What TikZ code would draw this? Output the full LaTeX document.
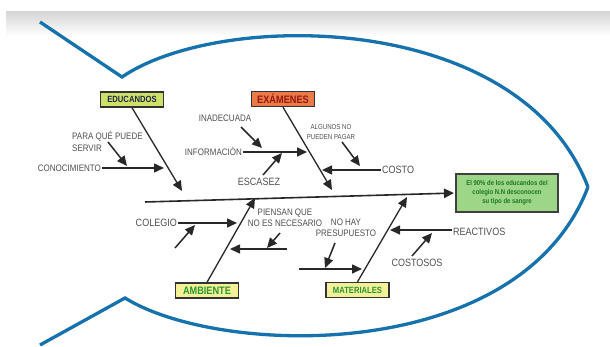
\documentclass[tikz,border=0pt]{standalone}
\usepackage{fontspec}
\setmainfont{Liberation Sans}[FakeStretch=0.85]
\usetikzlibrary{arrows.meta}

\definecolor{fishblue}{RGB}{22,114,172}
\definecolor{txtgray}{RGB}{80,80,80}
\definecolor{linegray}{RGB}{40,40,40}
\definecolor{edufill}{RGB}{206,224,104}
\definecolor{edutext}{RGB}{30,38,70}
\definecolor{exafill}{RGB}{234,122,72}
\definecolor{exatext}{RGB}{150,22,12}
\definecolor{paleyellow}{RGB}{244,240,152}
\definecolor{catgreen}{RGB}{40,150,50}
\definecolor{efffill}{RGB}{158,214,136}
\definecolor{efftext}{RGB}{28,118,32}

\tikzset{
  fish/.style={draw=fishblue, line width=3.3pt, line join=miter},
  lbl/.style={text=txtgray, inner sep=1pt, font=\fontsize{9.4}{12}\selectfont},
  biglbl/.style={lbl, font=\fontsize{10.6}{12}\selectfont},
  smalllbl/.style={lbl, font=\fontsize{7.2}{10}\selectfont},
  catbox/.style={draw=black!80, line width=1.4pt, minimum width=63pt,
    minimum height=15pt, inner sep=0pt},
  head/.style={-{Triangle[length=10pt,width=9pt]}},
  bone/.style={draw=linegray, line width=1.3pt, head},
  branch/.style={draw=linegray, line width=1.5pt, head},
  twig/.style={draw=linegray, line width=1.5pt, head},
  spine/.style={draw=linegray, line width=1.6pt, -{Triangle[length=10pt,width=9.5pt]}}
}

\begin{document}
\begin{tikzpicture}[x=1pt, y=-1pt]
  \useasboundingbox (0,0) rectangle (610,347);
  \fill[white] (0,0) rectangle (610,347);
  \shade[top color=black!16, bottom color=white] (6,12) rectangle (610,36);

  % fish outline
  \draw[fish] (40,22) -- (122,77) .. controls (220,10) and (520,10) .. (588,187);
  \draw[fish] (40,345) -- (125,298) .. controls (220,357) and (520,365) .. (588,187);

  % effect box
  \node[draw=black!75, line width=1.2pt, fill=efffill, minimum width=102pt,
        minimum height=38pt, inner sep=0pt, text=efftext, align=center,
        font=\fontsize{7}{9}\selectfont\bfseries] (eff) at (507,193)
        {El 90\% de los educandos del\\colegio N.N desconocen\\su tipo de sangre};

  % category boxes
  \node[catbox, fill=edufill, text=edutext, font=\fontsize{9}{10}\selectfont\bfseries]
    (edu) at (132,99.5) {EDUCANDOS};
  \node[catbox, fill=exafill, text=exatext, font=\fontsize{10.8}{11}\selectfont\bfseries]
    (exa) at (283,99) {EXÁMENES};
  \node[catbox, fill=paleyellow, text=catgreen, font=\fontsize{10.8}{11}\selectfont\bfseries]
    (amb) at (207,290.5) {AMBIENTE};
  \node[catbox, fill=paleyellow, text=catgreen, font=\fontsize{9}{10}\selectfont\bfseries]
    (mat) at (357.5,290) {MATERIALES};

  % spine
  \coordinate (tail) at (145,202);
  \draw[spine, shorten >=1.5pt] (tail) -- (eff.west);

  % main bones
  \coordinate (eduTip) at (182,191);
  \coordinate (exaTip) at (332,190);
  \coordinate (ambTip) at (255,198);
  \coordinate (matTip) at (407,197);
  \draw[bone] (edu.south) -- (eduTip);
  \draw[bone] (exa.south) -- (exaTip);
  \draw[bone] (amb.north) -- (ambTip);
  \draw[bone] (mat.north) -- (matTip);

  % EDUCANDOS causes
  \node[lbl, anchor=base east] (cono) at (102,171.3) {CONOCIMIENTO};
  \coordinate (conoTip) at (164,168);
  \draw[branch] (cono.east |- conoTip) -- (conoTip);
  \node[lbl, anchor=west, align=left] (para) at (71,141) {PARA QUÉ PUEDE\\SERVIR};
  \coordinate (paraA) at (108,142);
  \coordinate (paraB) at (127,166);
  \draw[twig] (paraA) -- (paraB);

  % EXAMENES causes
  \node[lbl, anchor=base east] (info) at (243,155.3) {INFORMACIÓN};
  \coordinate (infoTip) at (307,152);
  \draw[branch] (info.east |- infoTip) -- (infoTip);
  \node[lbl, anchor=base] (inad) at (225,121.3) {INADECUADA};
  \coordinate (inadA) at (241,127);
  \coordinate (inadB) at (262,148);
  \draw[twig] (inadA) -- (inadB);
  \node[biglbl, anchor=base] (esc) at (259,185.8) {ESCASEZ};
  \coordinate (escA) at (263,175);
  \coordinate (escB) at (282,153);
  \draw[twig] (escA) -- (escB);
  \node[biglbl, anchor=base west] (costo) at (381,173.8) {COSTO};
  \coordinate (costoTip) at (322,170);
  \draw[branch] (costo.west |- costoTip) -- (costoTip);
  \node[smalllbl, align=center] (alg) at (331,132) {ALGUNOS NO\\PUEDEN PAGAR};
  \coordinate (algA) at (342,142);
  \coordinate (algB) at (360,166);
  \draw[twig] (algA) -- (algB);

  % AMBIENTE causes
  \node[biglbl, anchor=base east] (col) at (178,226.8) {COLEGIO};
  \coordinate (colTip) at (237,223);
  \draw[branch] (col.east |- colTip) -- (colTip);
  \coordinate (colA) at (175,248);
  \coordinate (colB) at (195,225);
  \draw[twig] (colA) -- (colB);
  \node[lbl, align=center, font=\fontsize{9.4}{11}\selectfont] (pien) at (285,217.5)
    {PIENSAN QUE\\NO ES NECESARIO};
  \coordinate (pienStart) at (287,249);
  \coordinate (pienTip) at (230,249);
  \draw[branch] (pienStart) -- (pienTip);
  \coordinate (pienA) at (280,233);
  \coordinate (pienB) at (267,248);
  \draw[twig] (pienA) -- (pienB);

  % MATERIALES causes
  \node[lbl, align=center, font=\fontsize{9.4}{11}\selectfont] (nohay) at (346,227.5)
    {NO HAY\\PRESUPUESTO};
  \coordinate (presStart) at (299,269);
  \coordinate (presTip) at (362,269);
  \draw[branch] (presStart) -- (presTip);
  \coordinate (presA) at (335,243);
  \coordinate (presB) at (325,268);
  \draw[twig] (presA) -- (presB);
  \node[biglbl, anchor=base west] (reac) at (452,235.8) {REACTIVOS};
  \coordinate (reacTip) at (390,230);
  \draw[branch] (reac.west |- reacTip) -- (reacTip);
  \node[biglbl, anchor=base] (cost2) at (417,266.8) {COSTOSOS};
  \coordinate (cost2A) at (412,256);
  \coordinate (cost2B) at (432,233);
  \draw[twig] (cost2A) -- (cost2B);
\end{tikzpicture}
\end{document}
